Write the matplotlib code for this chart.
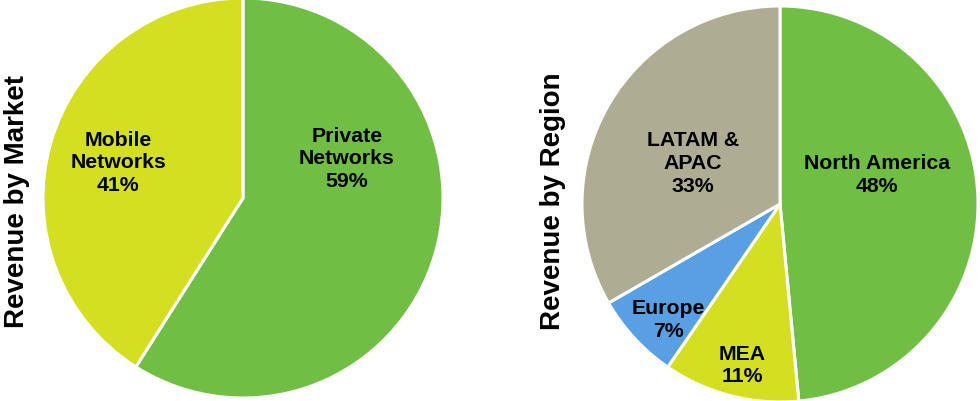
import matplotlib
matplotlib.use("Agg")
import matplotlib.pyplot as plt

# --- data -------------------------------------------------------------------
market_names = ["Private\nNetworks", "Mobile\nNetworks"]
market_share = [59, 41]

region_names = ["North America", "MEA", "Europe", "LATAM &\nAPAC"]
region_share = [48, 11, 7, 33]

# --- style ------------------------------------------------------------------
GREEN, YELLOW, BLUE, TAN = "#70BF44", "#D5DF21", "#589FE4", "#AEAD93"
market_colors = [GREEN, YELLOW]
region_colors = [GREEN, YELLOW, BLUE, TAN]

# label centres in pie units (radius = 1)
market_label_xy = [(0.52, 0.20), (-0.625, 0.18)]
region_label_xy = [(0.49, 0.15), (-0.19, -0.81), (-0.565, -0.58), (-0.44, 0.21)]

plt.rcParams.update({
    "font.family": ["Liberation Sans", "DejaVu Sans"],
    "font.weight": "bold",
})

fig = plt.figure(figsize=(9.8, 4.02), dpi=100)


def draw_pie(rect, names, shares, colors, label_xy):
    ax = fig.add_axes(rect)
    ax.pie(shares, colors=colors, startangle=90, counterclock=False,
           wedgeprops=dict(edgecolor="white", linewidth=2.2))
    for name, share, (x, y) in zip(names, shares, label_xy):
        ax.text(x, y, f"{name}\n{share}%", ha="center", va="center",
                fontsize=15.3, fontweight="bold", linespacing=1.25)
    ax.set_xlim(-1, 1)
    ax.set_ylim(-1, 1)
    ax.set_aspect("equal")
    ax.axis("off")
    return ax


draw_pie([43 / 980, 3 / 402, 400 / 980, 400 / 402],
         market_names, market_share, market_colors, market_label_xy)
draw_pie([582 / 980, -1 / 402, 396 / 980, 396 / 402],
         region_names, region_share, region_colors, region_label_xy)

fig.text(17 / 980, 0.5, "Revenue by Market", rotation=90, ha="center",
         va="center", fontsize=20, fontweight="bold")
fig.text(553 / 980, 0.5, "Revenue by Region", rotation=90, ha="center",
         va="center", fontsize=20, fontweight="bold")

fig.savefig("out.png", dpi=100, facecolor="white")
